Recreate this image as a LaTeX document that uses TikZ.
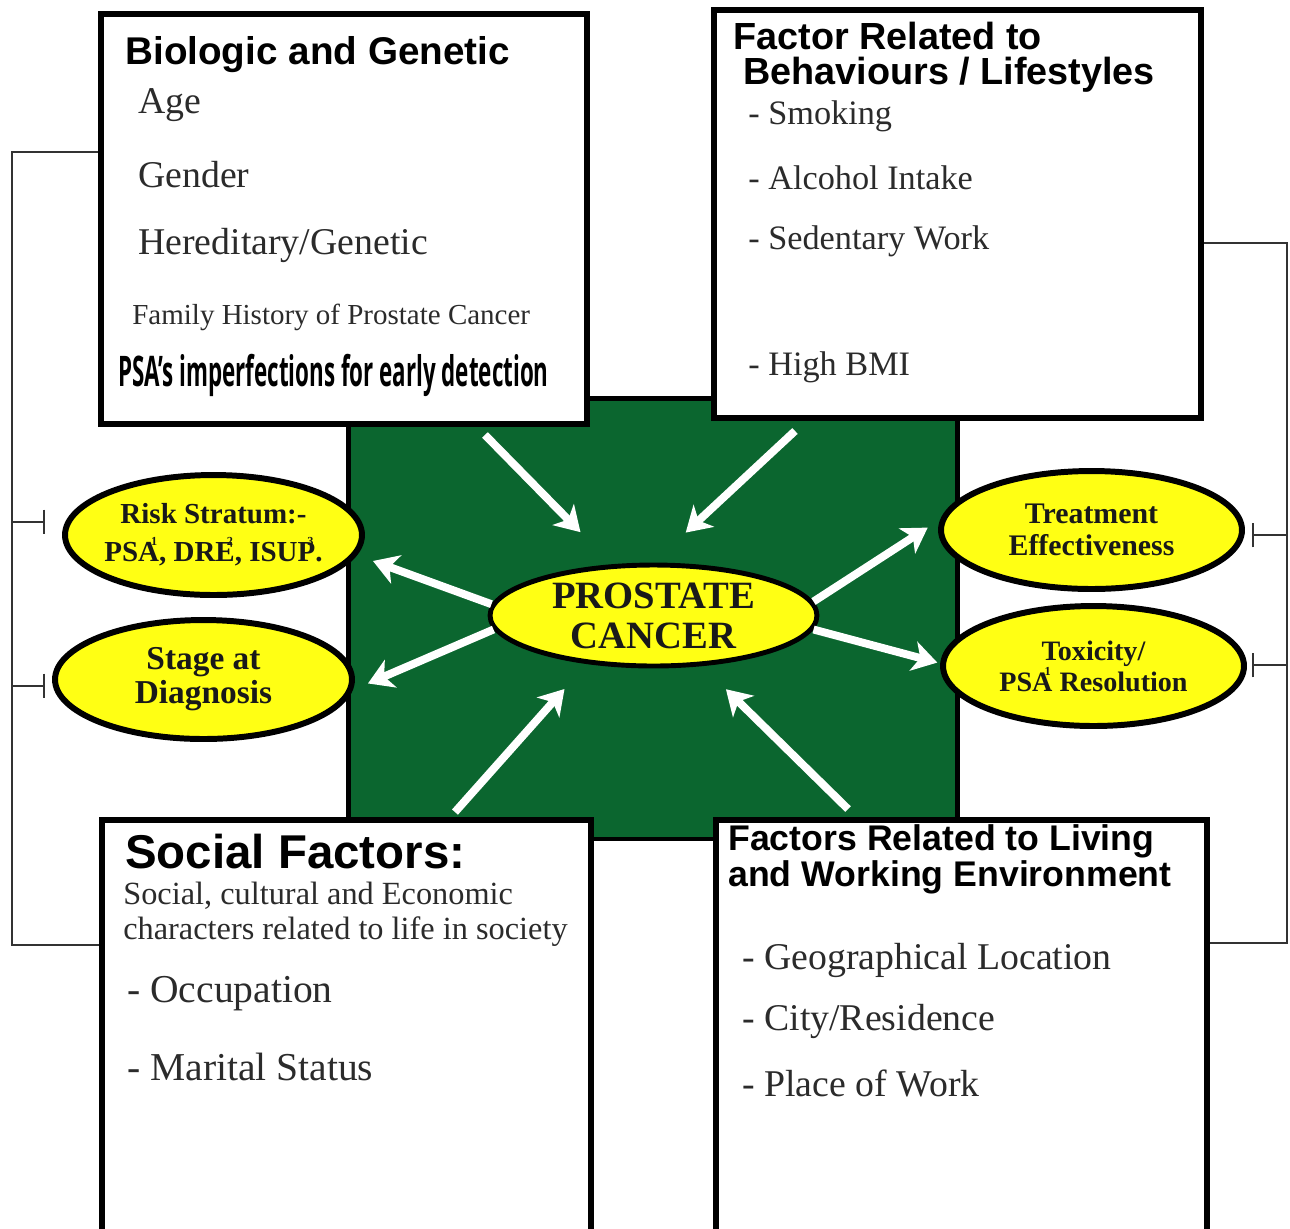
\documentclass[tikz,border=0pt]{standalone}
\usepackage{fontspec}
\setmainfont{Liberation Serif}
\newfontfamily\headfont{Liberation Sans}
\newfontfamily\condfont[FakeStretch=0.53]{Open Sans}
\usepackage{tikz}
\usetikzlibrary{shapes.geometric,arrows.meta}
\definecolor{PCGreen}{HTML}{0B662F}
\definecolor{PCYellow}{HTML}{FFFF14}
\definecolor{ItemGray}{HTML}{2B2B2B}
\newcommand\refmark[1]{\llap{\raisebox{1.2ex}{\fontsize{7}{7}\selectfont #1}\kern1pt}}

\begin{document}
\begin{tikzpicture}[
      x=0.02cm, y=-0.02cm,
      every node/.style={inner sep=0pt},
      box/.style={draw, fill=white, line width=3.4pt},
      oval/.style={ellipse, draw, fill=PCYellow, line width=3.4pt, inner xsep=-14pt, align=center, text=black!90},
      title/.style={anchor=west, font=\headfont\bfseries\fontsize{21.5}{24}\selectfont},
      item/.style={anchor=west, text=ItemGray, font=\fontsize{19.5}{22}\selectfont},
      warrow/.style={white, line width=4.5pt, -{Stealth[length=14pt,width=17pt,inset=4pt]}},
      link/.style={line width=1.1pt, black!80},
      tee/.style={link, -{Bar[width=14pt]}}
    ]
      \useasboundingbox (0,0) rectangle (1290,1228);
      % Side brackets
      \coordinate (lt) at (12,152);
      \coordinate (lb) at (12,945);
      \coordinate (lr) at (45,522);
      \coordinate (ls) at (45,686);
      \coordinate (rt) at (1287,243);
      \coordinate (rb) at (1287,943);
      \coordinate (rr) at (1252,535);
      \coordinate (rs) at (1252,665);
      % Centre panel
      \node[draw, fill=PCGreen, line width=2.8pt, minimum width=12.2cm, minimum height=8.82cm] (core) at (653,618.5) {};
      % Factor boxes
      \node[box, minimum width=9.72cm, minimum height=8.2cm] (bio) at (344,219) {};
      \node[box, minimum width=9.74cm, minimum height=8.16cm] (life) at (957.5,214) {};
      \node[box, minimum width=9.78cm, minimum height=8.4cm] (soc) at (346.5,1030) {};
      \node[box, minimum width=9.82cm, minimum height=8.4cm] (env) at (961.5,1030) {};
      \draw[link] (bio.west |- lt) -- (lt) -- (lb) -- (soc.west |- lb);
      \draw[tee] (lt |- lr) -- (lr);
      \draw[tee] (lt |- ls) -- (ls);
      \draw[link] (life.east |- rt) -- (rt) -- (rb) -- (env.east |- rb);
      \draw[tee] (rt |- rr) -- (rr);
      \draw[tee] (rt |- rs) -- (rs);
      % Box texts
      \node[title, font=\headfont\bfseries\fontsize{22}{24}\selectfont] (bioHead) at (125,55) {Biologic and Genetic};
      \node[item, font=\fontsize{21.5}{24}\selectfont] (bioAge) at (138,105) {Age};
      \node[item, font=\fontsize{21.5}{24}\selectfont] (bioGender) at (138,175) {Gender};
      \node[item, font=\fontsize{21.5}{24}\selectfont] (bioHered) at (138,245) {Hereditary/Genetic};
      \node[item, font=\fontsize{16.5}{19}\selectfont] (bioFamily) at (132,317) {Family History of Prostate Cancer};
      \node[item, text=black, font=\condfont\bfseries\fontsize{24}{26}\selectfont] (bioPsa) at (118,375) {PSA’s imperfections for early detection};
      \node[title, font=\headfont\bfseries\fontsize{21.5}{24}\selectfont] (lifeHeadA) at (733,36) {Factor Related to};
      \node[title, font=\headfont\bfseries\fontsize{21.5}{24}\selectfont] (lifeHeadB) at (743,75) {Behaviours / Lifestyles};
      \node[item] (lifeSmoke) at (748,116) {- Smoking};
      \node[item] (lifeAlc) at (748,178) {- Alcohol Intake};
      \node[item] (lifeSed) at (748,241) {- Sedentary Work};
      \node[item] (lifeBmi) at (748,367) {- High BMI};
      \node[title, font=\headfont\bfseries\fontsize{27}{30}\selectfont] (socHead) at (125,852) {Social Factors:};
      \node[item, font=\fontsize{18.4}{21}\selectfont] (socDescA) at (123,896) {Social, cultural and Economic};
      \node[item, font=\fontsize{18.4}{21}\selectfont] (socDescB) at (123,932) {characters related to life in society};
      \node[item, font=\fontsize{22.5}{25}\selectfont] (socOcc) at (127,994) {- Occupation};
      \node[item, font=\fontsize{22.5}{25}\selectfont] (socMar) at (127,1067) {- Marital Status};
      \node[title, font=\headfont\bfseries\fontsize{20.3}{23}\selectfont] (envHeadA) at (728,841) {Factors Related to Living};
      \node[title, font=\headfont\bfseries\fontsize{20.3}{23}\selectfont] (envHeadB) at (728,877) {and Working Environment};
      \node[item, font=\fontsize{21.5}{24}\selectfont] (envGeo) at (742,960) {- Geographical Location};
      \node[item, font=\fontsize{21.5}{24}\selectfont] (envCity) at (742,1021) {- City/Residence};
      \node[item, font=\fontsize{21.5}{24}\selectfont] (envWork) at (742,1083) {- Place of Work};
      % Outcome ovals
      \node[oval, minimum width=5.94cm, minimum height=2.4cm, font=\bfseries\fontsize{16.5}{21.6}\selectfont] (risk) at (213.5,535) {Risk Stratum:-\\PSA\refmark{1}, DRE\refmark{2}, ISUP\refmark{3}.};
      \node[oval, minimum width=5.94cm, minimum height=2.38cm, font=\bfseries\fontsize{19}{19.4}\selectfont] (stage) at (203.5,679.5) {Stage at\\Diagnosis};
      \node[oval, minimum width=6.02cm, minimum height=2.36cm, font=\bfseries\fontsize{17}{18.5}\selectfont] (treat) at (1091.5,530) {Treatment\\Effectiveness};
      \node[oval, minimum width=6.02cm, minimum height=2.4cm, font=\bfseries\fontsize{16}{17.6}\selectfont] (tox) at (1093.5,666) {Toxicity/\\PSA\refmark{1} Resolution};
      \node[oval, line width=2.8pt, minimum width=6.54cm, minimum height=2.02cm, font=\bfseries\fontsize{22}{22.8}\selectfont] (pc) at (653.5,615.5) {PROSTATE\\CANCER};
      % Arrows
      \draw[warrow, shorten >=0.9cm] ([shift={(141,8)}]bio.south) -- (pc.129);
      \draw[warrow, shorten >=0.88cm] ([shift={(-162.5,10)}]life.south) -- (pc.north);
      \draw[warrow, shorten >=0.34cm] (pc.176) -- (risk.-8);
      \draw[warrow, shorten >=0.33cm] (pc.185) -- (stage.-4);
      \draw[warrow, shorten >=0.3cm] (pc.5) -- (treat.176);
      \draw[warrow, shorten >=0.06cm] (pc.-5) -- (tox.179);
      \draw[warrow, shorten >=0.67cm] ([shift={(108.5,-5)}]soc.north) -- (pc.216);
      \draw[warrow, shorten >=0.66cm] ([shift={(-113.5,-8)}]env.north) -- (pc.-46);
    \end{tikzpicture}
\end{document}
